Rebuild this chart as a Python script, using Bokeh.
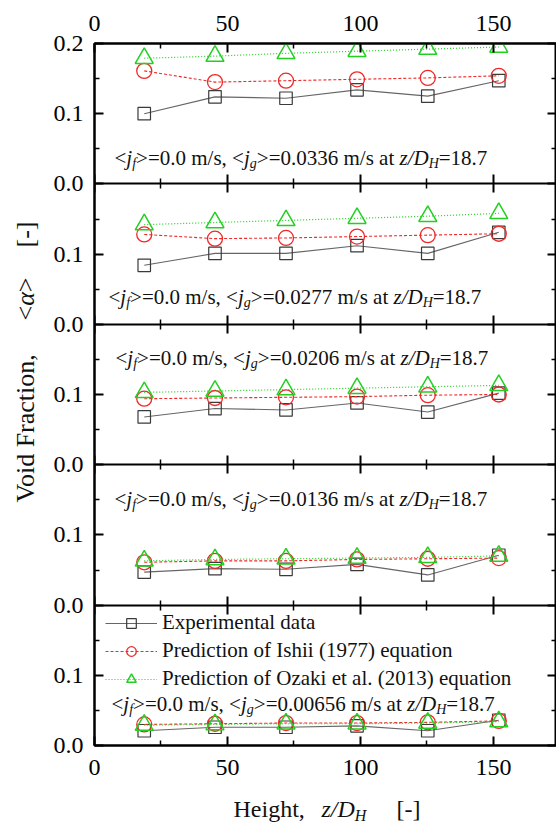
import math
from bokeh.plotting import figure
from bokeh.layouts import column, row
from bokeh.models import Range1d, LinearAxis, FixedTicker, Label, Legend, LegendItem
from bokeh.embed import file_html
from bokeh.resources import INLINE

# ---------------- data ----------------
X_POS = [18.7, 45.3, 72.0, 98.7, 125.3, 152.0]

EXP_1 = [0.100, 0.124, 0.122, 0.134, 0.125, 0.147]
ISHII_1 = [0.161, 0.145, 0.147, 0.149, 0.151, 0.154]
OZAKI_1 = [0.179, 0.182, 0.186, 0.189, 0.192, 0.195]

EXP_2 = [0.084, 0.101, 0.101, 0.112, 0.101, 0.131]
ISHII_2 = [0.128, 0.122, 0.123, 0.125, 0.127, 0.129]
OZAKI_2 = [0.142, 0.145, 0.148, 0.151, 0.154, 0.158]

EXP_3 = [0.068, 0.080, 0.078, 0.088, 0.075, 0.102]
ISHII_3 = [0.094, 0.095, 0.096, 0.097, 0.099, 0.100]
OZAKI_3 = [0.103, 0.105, 0.107, 0.109, 0.111, 0.113]

EXP_4 = [0.047, 0.052, 0.051, 0.058, 0.043, 0.071]
ISHII_4 = [0.061, 0.063, 0.063, 0.065, 0.066, 0.067]
OZAKI_4 = [0.063, 0.065, 0.066, 0.067, 0.068, 0.070]

EXP_5 = [0.021, 0.026, 0.026, 0.028, 0.021, 0.036]
ISHII_5 = [0.030, 0.031, 0.032, 0.032, 0.033, 0.035]
OZAKI_5 = [0.029, 0.030, 0.031, 0.031, 0.032, 0.034]

JF_VALUE = "0.0"
JG_VALUES = ["0.0336", "0.0277", "0.0206", "0.0136", "0.00656"]
ZD_VALUE = "18.7"

LEGEND_LABELS = ["Experimental data",
                 "Prediction of Ishii (1977) equation",
                 "Prediction of Ozaki et al. (2013) equation"]

X_TICKS = [0, 50, 100, 150]
X_MINOR = [25, 75, 125, 175]
Y_TICKS = [0.0, 0.1, 0.2, 0.3, 0.4, 0.5, 0.6, 0.7, 0.8, 0.9, 1.0]
Y_TICK_LABELS = ["0.0", "0.1", "0.0", "0.1", "0.0", "0.1", "0.0", "0.1", "0.0", "0.1", "0.2"]
Y_MINOR = [0.05, 0.15, 0.25, 0.35, 0.45, 0.55, 0.65, 0.75, 0.85, 0.95]
PANEL_RANGE = (0.0, 0.2)

PANELS = [(EXP_1, ISHII_1, OZAKI_1), (EXP_2, ISHII_2, OZAKI_2), (EXP_3, ISHII_3, OZAKI_3),
          (EXP_4, ISHII_4, OZAKI_4), (EXP_5, ISHII_5, OZAKI_5)]

# ---------------- styling ----------------
FONT = "Liberation Serif"
RED = "#f02828"
GREEN = "#22d022"
SQ = "#3a3a3a"
EXP_LINE = "#666666"
TXT = "#111111"

REG = {' ': 250, '<': 564, '>': 564, '=': 564, '.': 250, ',': 250, '/': 278, 'm': 778,
       's': 389, 'a': 444, 't': 278, '[': 333, ']': 333, '-': 333, 'H': 722, 'e': 444,
       'i': 278, 'g': 500, 'h': 500, 'V': 722, 'o': 500, 'd': 500, 'F': 556, 'r': 333,
       'c': 444, 'n': 500}
ITA = {'j': 278, 'f': 278, 'g': 500, 'z': 389, '/': 278, 'D': 722, 'H': 722, 'α': 520}


def tw(s, size, italic=False):
    tab = ITA if italic else REG
    return sum(tab.get(c, 500) for c in s) * size / 1000.0


def put_pieces(fig, pieces, x0, y0, size, sub_size, sub_shift, angle=0.0):
    pos = 0.0
    for text, italic, sub in pieces:
        fs = sub_size if sub else size
        if angle == 0.0:
            lx, ly = x0 + pos, y0 - (sub_shift if sub else 0)
        else:
            lx, ly = x0 + (sub_shift if sub else 0), y0 + pos
        fig.add_layout(Label(x=lx, y=ly, x_units="screen", y_units="screen", text=text,
                             text_font=FONT, text_font_size=f"{fs}px",
                             text_font_style="italic" if italic else "normal",
                             text_color=TXT, text_align="left",
                             text_baseline="alphabetic" if angle == 0.0 else "middle",
                             angle=angle))
        pos += tw(text, fs, italic)


TOTAL_W = 556
TITLE_W = 40
MAIN_H = 791
XT_H = 35

p = figure(width=TOTAL_W - TITLE_W, height=MAIN_H, x_range=Range1d(0, 173.7),
           y_range=Range1d(0, 1.0),
           output_backend="svg", toolbar_location=None,
           x_axis_location=None, y_axis_location=None,
           min_border_left=54, min_border_right=0, min_border_top=43, min_border_bottom=46)
p.grid.visible = False
p.outline_line_color = "black"
p.outline_line_width = 2
p.background_fill_color = "white"
p.border_fill_color = "white"


def style_axis(ax, label_size="24px"):
    ax.axis_line_width = 2
    ax.axis_line_color = "black"
    ax.major_tick_line_width = 2
    ax.minor_tick_line_width = 1.5
    ax.major_tick_line_color = "black"
    ax.minor_tick_line_color = "black"
    ax.major_tick_in = 9
    ax.major_tick_out = 0
    ax.minor_tick_in = 5
    ax.minor_tick_out = 0
    ax.major_label_text_font = FONT
    ax.major_label_text_font_size = label_size
    ax.major_label_text_color = "black"


xb = LinearAxis(ticker=FixedTicker(ticks=X_TICKS, minor_ticks=X_MINOR))
style_axis(xb)
xb.major_label_standoff = 14
p.add_layout(xb, "below")

xt = LinearAxis(ticker=FixedTicker(ticks=X_TICKS, minor_ticks=X_MINOR))
style_axis(xt)
xt.major_label_standoff = 13
p.add_layout(xt, "above")

yl = LinearAxis(ticker=FixedTicker(ticks=Y_TICKS, minor_ticks=Y_MINOR),
                major_label_overrides={t: s for t, s in zip(Y_TICKS, Y_TICK_LABELS)})
style_axis(yl)
yl.major_label_standoff = 11
p.add_layout(yl, "left")

yr = LinearAxis(ticker=FixedTicker(ticks=Y_TICKS, minor_ticks=Y_MINOR),
                major_label_overrides={t: "" for t in Y_TICKS})
style_axis(yr, "2px")
yr.major_label_standoff = 0
p.add_layout(yr, "right")

# inner panel boundaries (ticks on both sides)
for k in range(1, 5):
    ax = LinearAxis(ticker=FixedTicker(ticks=X_TICKS, minor_ticks=X_MINOR),
                    fixed_location=Y_TICKS[2 * k],
                    major_label_overrides={t: "" for t in X_TICKS})
    style_axis(ax, "2px")
    ax.major_tick_out = 9
    ax.minor_tick_out = 5
    ax.major_label_standoff = 0
    p.add_layout(ax, "below")

# panels: each panel's own y range mapped onto a fifth of the frame
n = len(PANELS)
legend_src = None
for i, (exp, ish, oza) in enumerate(PANELS):
    k = n - 1 - i
    lo = PANEL_RANGE[0] - (PANEL_RANGE[1] - PANEL_RANGE[0]) * k
    hi = lo + (PANEL_RANGE[1] - PANEL_RANGE[0]) * n
    name = f"panel{i}"
    p.extra_y_ranges[name] = Range1d(lo, hi)
    l1 = p.line(X_POS, exp, line_color=EXP_LINE, line_width=1.1, y_range_name=name)
    s1 = p.scatter(X_POS, exp, marker="square", size=12.5, line_color=SQ, line_width=1.2,
                   fill_alpha=0, y_range_name=name)
    l2 = p.line(X_POS, ish, line_color=RED, line_width=1.1, line_dash="3 2", y_range_name=name)
    s2 = p.scatter(X_POS, ish, marker="circle", size=15, line_color=RED, line_width=1.3,
                   fill_alpha=0, y_range_name=name)
    l3 = p.line(X_POS, oza, line_color=GREEN, line_width=1.2, line_dash="1 2", y_range_name=name)
    s3 = p.scatter(X_POS, oza, marker="triangle", size=18, line_color=GREEN, line_width=1.5,
                   fill_alpha=0, y_range_name=name)
    if i == n - 1:
        legend_src = [(l1, s1), (l2, s2), (l3, s3)]

legend = Legend(items=[LegendItem(label=lab, renderers=list(r))
                       for lab, r in zip(LEGEND_LABELS, legend_src)],
                location=(11, 54))
legend.glyph_width = 52
legend.glyph_height = 24
legend.label_height = 24
legend.spacing = 3
legend.padding = 0
legend.margin = 0
legend.label_standoff = 5
legend.border_line_alpha = 0
legend.background_fill_alpha = 0
legend.label_text_font = FONT
legend.label_text_font_size = "21px"
legend.label_text_color = TXT
legend.label_text_baseline = "middle"
p.add_layout(legend, "center")

# ---------------- annotation texts ----------------
ANN_SIZE = 21
SUB_SIZE = 14
SUB_SHIFT = 6
ANN_X = [20, 14, 21, 20, 17]
ANN_Y = [588, 449, 388, 247, 42]

for i, jg in enumerate(JG_VALUES):
    pieces = [("<", False, False), ("j", True, False), ("f", True, True),
              (f">={JF_VALUE} m/s, <", False, False), ("j", True, False), ("g", True, True),
              (f">={jg} m/s at ", False, False), ("z/D", True, False), ("H", True, True),
              (f"={ZD_VALUE}", False, False)]
    put_pieces(p, pieces, ANN_X[i], ANN_Y[i], ANN_SIZE, SUB_SIZE, SUB_SHIFT)


def blank_fig(w, h):
    f = figure(width=w, height=h, x_range=Range1d(0, 1), y_range=Range1d(0, 1),
               output_backend="svg", toolbar_location=None,
               x_axis_location=None, y_axis_location=None,
               min_border_left=0, min_border_right=0, min_border_top=0, min_border_bottom=0)
    f.grid.visible = False
    f.outline_line_color = None
    f.background_fill_color = "white"
    f.border_fill_color = "white"
    return f


# y axis title (rotated); positions measured from the aligned frame bottom
yfig = blank_fig(TITLE_W, MAIN_H)
put_pieces(yfig, [("Void Fraction,", False, False)], 24.5, 243, 26, 18, 0, angle=math.pi / 2)
put_pieces(yfig, [("<", False, False), ("α", True, False), (">", False, False)], 24.5, 425,
           26, 18, 0, angle=math.pi / 2)
put_pieces(yfig, [("[-]", False, False)], 24.5, 498, 26, 18, 0, angle=math.pi / 2)

# x axis title
xfig = blank_fig(TOTAL_W, XT_H)
put_pieces(xfig, [("Height,", False, False)], 233, 18, 24, 16, 7)
put_pieces(xfig, [("z/D", True, False), ("H", True, True)], 321, 18, 24, 16, 7)
put_pieces(xfig, [("[-]", False, False)], 396, 18, 24, 16, 7)

layout = column(row(yfig, p, spacing=0), xfig, spacing=0)
open("out.html", "w").write(file_html(layout, INLINE))
